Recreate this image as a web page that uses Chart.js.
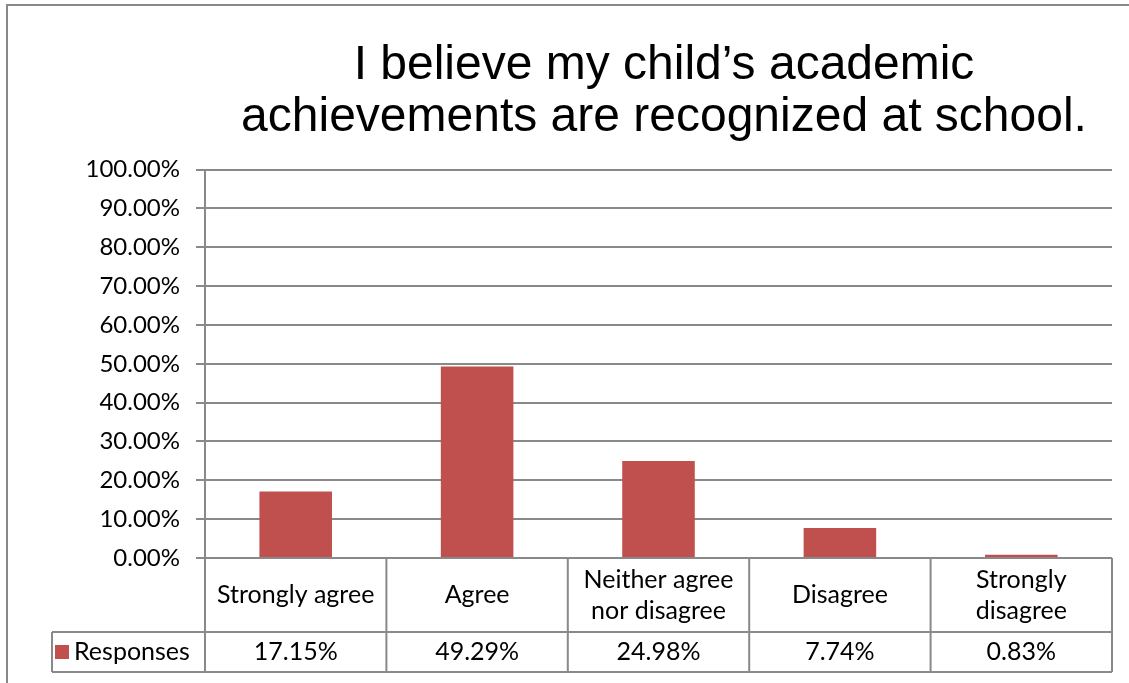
<!DOCTYPE html>
<html>
<head>
<meta charset="utf-8">
<script src="https://cdn.jsdelivr.net/npm/chart.js@4/dist/chart.umd.min.js"></script>
<style>
  html, body { margin: 0; padding: 0; background: #fff; }
  canvas { display: block; }
</style>
</head>
<body>
<canvas id="chart" width="1129" height="683"></canvas>
<script>
// Survey chart – bar chart with Excel-style data table underneath

const titleLines = ['I believe my child\u2019s academic', 'achievements are recognized at school.'];
const categories = [['Strongly agree'], ['Agree'], ['Neither agree', 'nor disagree'], ['Disagree'], ['Strongly', 'disagree']];
const seriesName = 'Responses';
const responses = [17.15, 49.29, 24.98, 7.74, 0.83];

const barColor = '#c0504d';
const lineColor = '#898989';
const labelFont = 'Lato, "Open Sans", sans-serif';

// outer frame of the chart (only top and left edges are visible)
const framePlugin = {
    id: 'frame',
    beforeDraw(chart) {
        const ctx = chart.ctx;
        ctx.save();
        ctx.fillStyle = '#fff';
        ctx.fillRect(0, 0, chart.width, chart.height);
        ctx.strokeStyle = lineColor;
        ctx.lineWidth = 2;
        ctx.beginPath();
        ctx.moveTo(7, chart.height);
        ctx.lineTo(7, 5);
        ctx.lineTo(chart.width, 5);
        ctx.stroke();
        ctx.restore();
    },
    // centre the title over the plot instead of the whole canvas
    afterLayout(chart) {
        if (chart.titleBlock) chart.titleBlock.left = 216;
    }
};

// data table below the plot: category row, then the values row with a legend key
const dataTablePlugin = {
    id: 'dataTable',
    afterDraw(chart) {
        const ctx = chart.ctx;
        const x = chart.scales.x;
        const area = chart.chartArea;
        const row1 = 74, row2 = 40;
        const top = area.bottom;
        const mid = top + row1;
        const bottom = mid + row2;
        const legendLeft = 52;
        const half = (x.getPixelForValue(1) - x.getPixelForValue(0)) / 2;

        ctx.save();
        ctx.strokeStyle = lineColor;
        ctx.lineWidth = 2;
        ctx.beginPath();
        ctx.moveTo(area.left, top); ctx.lineTo(area.right, top);
        ctx.moveTo(legendLeft, mid); ctx.lineTo(area.right, mid);
        ctx.moveTo(legendLeft, bottom); ctx.lineTo(area.right, bottom);
        ctx.moveTo(legendLeft, mid); ctx.lineTo(legendLeft, bottom);
        for (let i = 0; i <= categories.length; i++) {
            const cx = x.getPixelForValue(i) - half;
            ctx.moveTo(cx, top); ctx.lineTo(cx, bottom);
        }
        ctx.stroke();

        ctx.fillStyle = '#000';
        ctx.font = '25px ' + labelFont;
        ctx.textAlign = 'center';
        ctx.textBaseline = 'middle';
        const lh = 31;
        categories.forEach((lines, i) => {
            const cx = x.getPixelForValue(i);
            const y0 = top + row1 / 2 - (lines.length - 1) * lh / 2;
            lines.forEach((t, j) => ctx.fillText(t, cx, y0 + j * lh));
            ctx.fillText(responses[i].toFixed(2) + '%', cx, mid + row2 / 2);
        });

        // legend key
        ctx.fillStyle = barColor;
        ctx.fillRect(55, mid + row2 / 2 - 7, 14, 14);
        ctx.fillStyle = '#000';
        ctx.textAlign = 'left';
        ctx.fillText(seriesName, 74, mid + row2 / 2);
        ctx.restore();
    }
};

new Chart(document.getElementById('chart').getContext('2d'), {
    type: 'bar',
    data: {
        labels: categories.map(c => c.join(' ')),
        datasets: [{
            label: seriesName,
            data: responses,
            backgroundColor: barColor,
            borderWidth: 0,
            categoryPercentage: 1,
            barPercentage: 0.4,
        }],
    },
    options: {
        responsive: false,
        animation: false,
        devicePixelRatio: 1,
        layout: { padding: { top: 0, right: 17, bottom: 125, left: 0 } },
        plugins: {
            legend: { display: false },
            tooltip: { enabled: false },
            title: {
                display: true,
                text: titleLines,
                color: '#000',
                font: { family: '"Liberation Sans", Arial, sans-serif', size: 48, weight: 'normal', lineHeight: 1.1 },
                padding: { top: 39, bottom: 25 },
            },
        },
        scales: {
            x: { display: false },
            y: {
                min: 0,
                max: 100,
                afterFit: scale => { scale.width = 205; },
                ticks: {
                    stepSize: 10,
                    padding: 16,
                    color: '#000',
                    font: { family: labelFont, size: 24 },
                    callback: v => v.toFixed(2) + '%',
                },
                grid: { color: lineColor, lineWidth: 2, tickLength: 9 },
                border: { color: lineColor, width: 2 },
            },
        },
    },
    plugins: [framePlugin, dataTablePlugin],
});
</script>
</body>
</html>
